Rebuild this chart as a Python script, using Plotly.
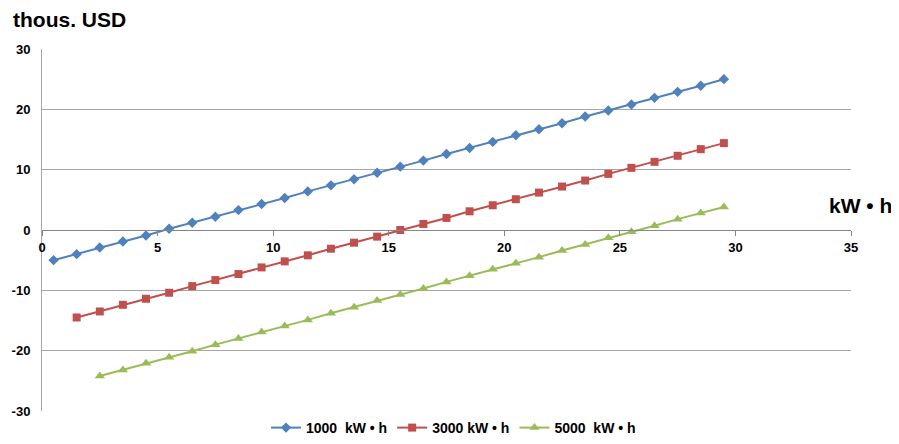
import plotly.graph_objects as go

x_blue = [0.5 + i for i in range(30)]
y_blue = [-5.0, -4.0, -2.9, -1.9, -0.9, 0.2, 1.2, 2.2, 3.3, 4.3, 5.3, 6.4, 7.4, 8.4, 9.5,
          10.5, 11.5, 12.6, 13.6, 14.6, 15.7, 16.7, 17.7, 18.8, 19.8, 20.8, 21.9, 22.9, 23.9, 25.0]
x_red = [1.5 + i for i in range(29)]
y_red = [-14.5, -13.5, -12.4, -11.4, -10.4, -9.3, -8.3, -7.3, -6.2, -5.2, -4.2, -3.1, -2.1, -1.1,
         0.0, 1.0, 2.0, 3.1, 4.1, 5.1, 6.2, 7.2, 8.2, 9.3, 10.3, 11.3, 12.3, 13.4, 14.4]
x_green = [2.5 + i for i in range(28)]
y_green = [-24.2, -23.2, -22.1, -21.1, -20.1, -19.0, -18.0, -16.9, -15.9, -14.9, -13.8, -12.8,
           -11.7, -10.7, -9.7, -8.6, -7.6, -6.5, -5.5, -4.5, -3.4, -2.4, -1.3, -0.3, 0.7, 1.8, 2.8, 3.8]
names = ["1000  kW • h", "3000 kW • h", "5000  kW • h"]
y_tickvals = [-30, -20, -10, 0, 10, 20, 30]
y_ticktext = ["-30", "-20", "-10", "0", "10", "20", "30"]

FONT = "Liberation Sans"
fig = go.Figure()
fig.add_trace(go.Scatter(x=x_blue, y=y_blue, mode="lines+markers", name=names[0],
                         line=dict(color="#4F81BD", width=2),
                         marker=dict(symbol="diamond", size=8, color="#4F81BD")))
fig.add_trace(go.Scatter(x=x_red, y=y_red, mode="lines+markers", name=names[1],
                         line=dict(color="#C0504D", width=2),
                         marker=dict(symbol="square", size=8, color="#C0504D")))
fig.add_trace(go.Scatter(x=x_green, y=y_green, mode="lines+markers", name=names[2],
                         line=dict(color="#9BBB59", width=2),
                         marker=dict(symbol="triangle-up", size=9, color="#9BBB59")))

fig.update_layout(
    width=891, height=436,
    margin=dict(l=34, r=48, t=41, b=33, autoexpand=False),
    plot_bgcolor="white", paper_bgcolor="white",
    font=dict(family=FONT, size=13, color="black"),
    showlegend=True,
    legend=dict(orientation="h", x=0.5, xanchor="center", xref="container",
                y=0.0, yanchor="bottom", yref="container",
                font=dict(family=FONT, size=14, color="black", weight="bold"),
                itemwidth=30, tracegroupgap=0),
    xaxis=dict(range=[0, 35], dtick=5, anchor="free", position=0.5, automargin=False,
               showgrid=False, zeroline=False, showline=True, linecolor="#868686", linewidth=1,
               ticks="outside", ticklen=5, tickcolor="#868686",
               tickfont=dict(family=FONT, size=13, color="black", weight="bold")),
    yaxis=dict(range=[-30, 30], tickvals=y_tickvals, ticktext=y_ticktext,
               showgrid=True, gridcolor="#A6A6A6", gridwidth=1,
               zeroline=False, showline=True, linecolor="#A6A6A6", linewidth=1, automargin=False,
               ticks="", ticklen=0, ticklabelstandoff=8,
               tickfont=dict(family=FONT, size=13, color="black", weight="bold")),
    annotations=[
        dict(text="<b>thous. USD</b>", xref="paper", yref="paper", x=0.0, y=1.0,
             xshift=-31, yshift=43, xanchor="left", yanchor="top", showarrow=False,
             font=dict(family=FONT, size=21, color="black")),
        dict(text="<b>kW • h</b>", xref="paper", yref="paper", x=1.0, y=0.5,
             xshift=43, yshift=25, xanchor="right", yanchor="middle", showarrow=False,
             font=dict(family=FONT, size=21, color="black")),
    ],
)
fig.write_html("out.html")
